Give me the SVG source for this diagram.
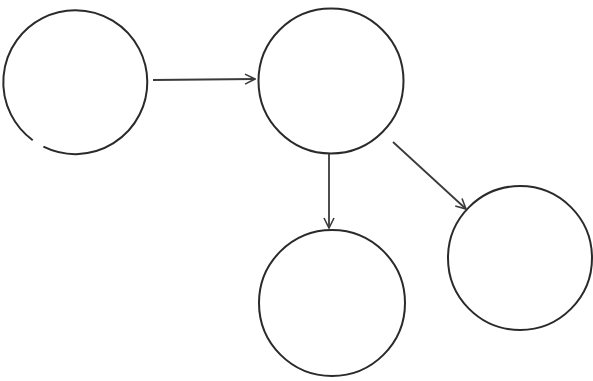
<svg xmlns="http://www.w3.org/2000/svg" width="593" height="381" viewBox="0 0 593 381">
<defs>
<style>
.node{fill:none;stroke:#2a2a2a;stroke-width:2}
.edge{fill:none;stroke:#3a3a3a;stroke-width:1.8}
</style>
<marker id="arr" viewBox="0 0 12 12" refX="11" refY="6" markerWidth="12" markerHeight="12" markerUnits="userSpaceOnUse" orient="auto">
<path d="M1,1 L11,6 L1,11" fill="none" stroke="#3a3a3a" stroke-width="1.6"/>
</marker>
</defs>
<rect width="593" height="381" fill="#fff"/>
<g id="node1"><path class="node" d="M 43.4 146.7 A 72 72 0 1 0 32.7 140.2"/></g>
<g id="node2"><circle class="node" cx="331" cy="81" r="72.5"/></g>
<g id="node3"><circle class="node" cx="332" cy="303" r="73"/></g>
<g id="node4"><circle class="node" cx="520" cy="258" r="72"/></g>
<g id="edges">
<line class="edge" x1="153" y1="80" x2="255" y2="79" marker-end="url(#arr)"/>
<line class="edge" x1="329" y1="154" x2="329" y2="228" marker-end="url(#arr)"/>
<line class="edge" x1="393" y1="142" x2="466" y2="209" marker-end="url(#arr)"/>
</g>
</svg>
